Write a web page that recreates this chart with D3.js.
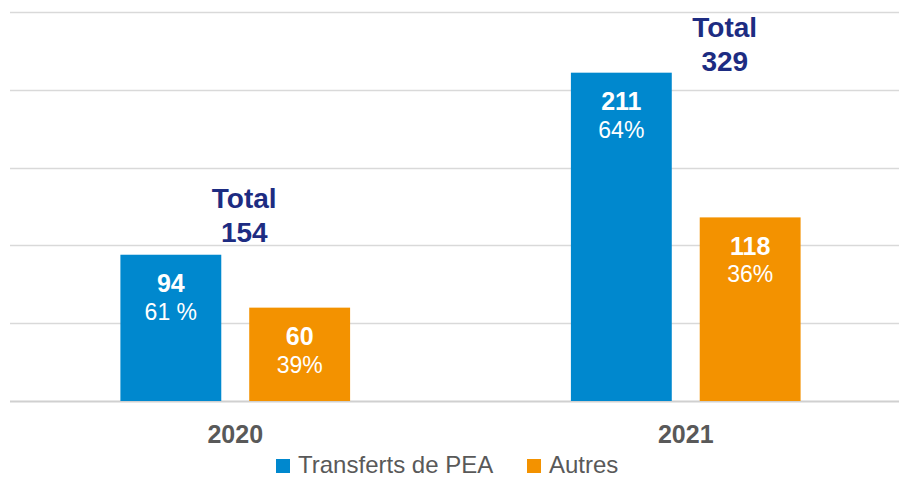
<!DOCTYPE html>
<html>
<head>
<meta charset="utf-8">
<script src="https://cdn.jsdelivr.net/npm/d3@7/dist/d3.min.js"></script>
<style>
  html, body { margin: 0; padding: 0; background: #fff; }
  svg { display: block; font-family: "Liberation Sans", Arial, sans-serif; }
</style>
</head>
<body>
<svg id="chart" width="899" height="477"></svg>
<script>
// Data
const years = ["2020", "2021"];
const seriesNames = ["Transferts de PEA", "Autres"];
const transferts = [94, 211];
const autres = [60, 118];
const shareLabels = [["61 %", "39%"], ["64%", "36%"]];
const totals = [154, 329];
const gridTicks = [0, 50, 100, 150, 200, 250];

const colors = ["#0088CE", "#F39200"];
const navy = "#1D2C82";
const grey = "#595959";

const svg = d3.select("#chart");
const W = 899, H = 477;

// Scales
const y = d3.scaleLinear().domain([0, 250]).range([401, 12]);
const x0 = d3.scaleBand().domain(years).range([10, 911]).padding(0);
const x1 = d3.scaleBand().domain(seriesNames)
  .range([0, x0.bandwidth()])
  .paddingInner(0.217)
  .paddingOuter(0.857);

// Gridlines
svg.append("g").selectAll("line")
  .data(gridTicks)
  .join("line")
  .attr("x1", 10).attr("x2", W)
  .attr("y1", d => Math.round(y(d)) + 0.5)
  .attr("y2", d => Math.round(y(d)) + 0.5)
  .attr("stroke", d => d === 0 ? "#D0D0D0" : "#D9D9D9")
  .attr("stroke-width", d => d === 0 ? 2 : 1.5);

// Bars
const rows = years.map((yr, i) => ({
  year: yr,
  values: [transferts[i], autres[i]],
  shares: shareLabels[i]
}));

const groups = svg.append("g").selectAll("g")
  .data(rows)
  .join("g")
  .attr("transform", d => `translate(${x0(d.year)},0)`);

const cells = groups.selectAll("g")
  .data(d => d.values.map((v, j) => ({ name: seriesNames[j], v, share: d.shares[j], j })))
  .join("g");

cells.append("rect")
  .attr("x", d => x1(d.name))
  .attr("y", d => y(d.v))
  .attr("width", x1.bandwidth())
  .attr("height", d => y(0) - y(d.v))
  .attr("fill", d => colors[d.j]);

cells.append("text")
  .attr("x", d => x1(d.name) + x1.bandwidth() / 2)
  .attr("y", d => y(d.v) + 37.5)
  .attr("text-anchor", "middle")
  .attr("fill", "#fff")
  .attr("font-weight", "bold")
  .attr("font-size", 25)
  .text(d => d.v);

cells.append("text")
  .attr("x", d => x1(d.name) + x1.bandwidth() / 2)
  .attr("y", d => y(d.v) + 65)
  .attr("text-anchor", "middle")
  .attr("fill", "#fff")
  .attr("font-size", 23)
  .text(d => d.share);

// Total labels above each year group
const totalDx = [9, 39];
const totalDy = [13, 2];
const totalG = svg.append("g").selectAll("text")
  .data(rows)
  .join("text")
  .attr("text-anchor", "middle")
  .attr("fill", navy)
  .attr("font-weight", "bold")
  .attr("font-size", 28);
totalG.each(function (d, i) {
  const cx = x0(d.year) + x0.bandwidth() / 2 + totalDx[i];
  const base = y(d3.max(d.values)) - totalDy[i];
  const t = d3.select(this);
  t.append("tspan").attr("x", cx).attr("y", base - 34).text("Total");
  t.append("tspan").attr("x", cx).attr("y", base).text(totals[i]);
});

// Category axis labels
svg.append("g").selectAll("text")
  .data(years)
  .join("text")
  .attr("x", d => x0(d) + x0.bandwidth() / 2)
  .attr("y", 443)
  .attr("text-anchor", "middle")
  .attr("fill", grey)
  .attr("font-weight", "bold")
  .attr("font-size", 25)
  .text(d => d);

// Legend
const legend = svg.append("g");
const legendX = [276, 527];
seriesNames.forEach((name, i) => {
  legend.append("rect")
    .attr("x", legendX[i]).attr("y", 459)
    .attr("width", 14).attr("height", 14)
    .attr("fill", colors[i]);
  legend.append("text")
    .attr("x", legendX[i] + 22).attr("y", 473)
    .attr("fill", grey)
    .attr("font-size", 24)
    .text(name);
});
</script>
</body>
</html>
